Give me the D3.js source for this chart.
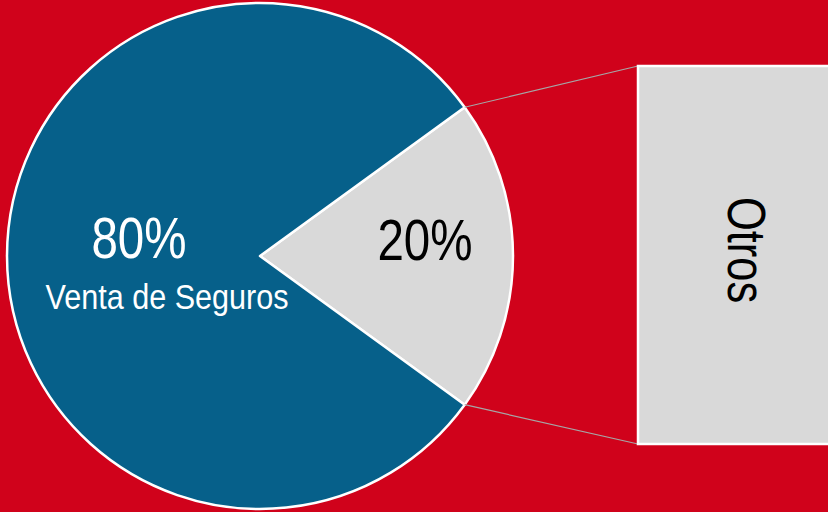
<!DOCTYPE html>
<html>
<head>
<meta charset="utf-8">
<script src="https://cdn.jsdelivr.net/npm/d3@7"></script>
<style>
  html, body { margin: 0; padding: 0; background: #d0021b; overflow: hidden; }
  text { font-family: "Liberation Sans", Arial, sans-serif; }
</style>
</head>
<body>
<div id="chart"></div>
<script>
var categories = ["Otros", "Venta de Seguros"];
var values = [20, 80];
var colors = ["#d9d9d9", "#06608a"];
var barLabel = "Otros";

var width = 828,
  height = 512;

var svg = d3.select("#chart")
  .append("svg")
  .attr("width", width)
  .attr("height", height);

svg.append("rect")
  .attr("width", width)
  .attr("height", height)
  .attr("fill", "#d0021b");

var cx = 260, cy = 256, r = 253;

var data = categories.map(function(c, i) {
  return { name: c, value: values[i], color: colors[i] };
});

// grey slice sits on the right, centred at 3 o'clock
var total = d3.sum(values);
var start = Math.PI / 2 - Math.PI * values[0] / total;
var pie = d3.pie()
  .sort(null)
  .value(function(d) { return d.value; })
  .startAngle(start)
  .endAngle(start + 2 * Math.PI);

var arcs = pie(data);
var arc = d3.arc().innerRadius(0).outerRadius(r);

var g = svg.append("g")
  .attr("transform", "translate(" + cx + "," + cy + ")");

// connector lines from the grey slice to the bar
var bar = { x: 638, y0: 66, y1: 444 };
var other = arcs[0];
function edge(a) { return [cx + r * Math.sin(a), cy - r * Math.cos(a)]; }
var p0 = edge(other.startAngle), p1 = edge(other.endAngle);

svg.append("line")
  .attr("x1", p0[0]).attr("y1", p0[1])
  .attr("x2", bar.x).attr("y2", bar.y0)
  .attr("stroke", "#a6a6a6").attr("stroke-width", 1.2);
svg.append("line")
  .attr("x1", p1[0]).attr("y1", p1[1])
  .attr("x2", bar.x).attr("y2", bar.y1)
  .attr("stroke", "#a6a6a6").attr("stroke-width", 1.2);

g.selectAll(".slice")
  .data(arcs)
  .enter().append("path")
  .attr("class", "slice")
  .attr("d", arc)
  .attr("fill", function(d) { return d.data.color; })
  .attr("stroke", "#fff")
  .attr("stroke-width", 2.5)
  .attr("stroke-linejoin", "round");

// the "Otros" bar
svg.append("rect")
  .attr("x", bar.x)
  .attr("y", bar.y0)
  .attr("width", width - bar.x + 10)
  .attr("height", bar.y1 - bar.y0)
  .attr("fill", colors[0])
  .attr("stroke", "#fff")
  .attr("stroke-width", 2.5);

// narrow-looking labels: squeeze a regular sans horizontally
function label(x, y, size, fill, txt, rot, sx) {
  var t = "translate(" + x + "," + y + ")" + (rot ? " rotate(" + rot + ")" : "") + " scale(" + (sx || 0.82) + ",1)";
  svg.append("text")
    .attr("transform", t)
    .attr("text-anchor", "middle")
    .attr("font-size", size)
    .attr("fill", fill)
    .text(txt);
}

label(728, 250, 53, "#000", barLabel, 90);
label(425, 260, 58, "#000", values[0] + "%");
label(139, 258, 58, "#fff", values[1] + "%");
label(167, 309, 36, "#fff", categories[1], 0, 0.85);
</script>
</body>
</html>
